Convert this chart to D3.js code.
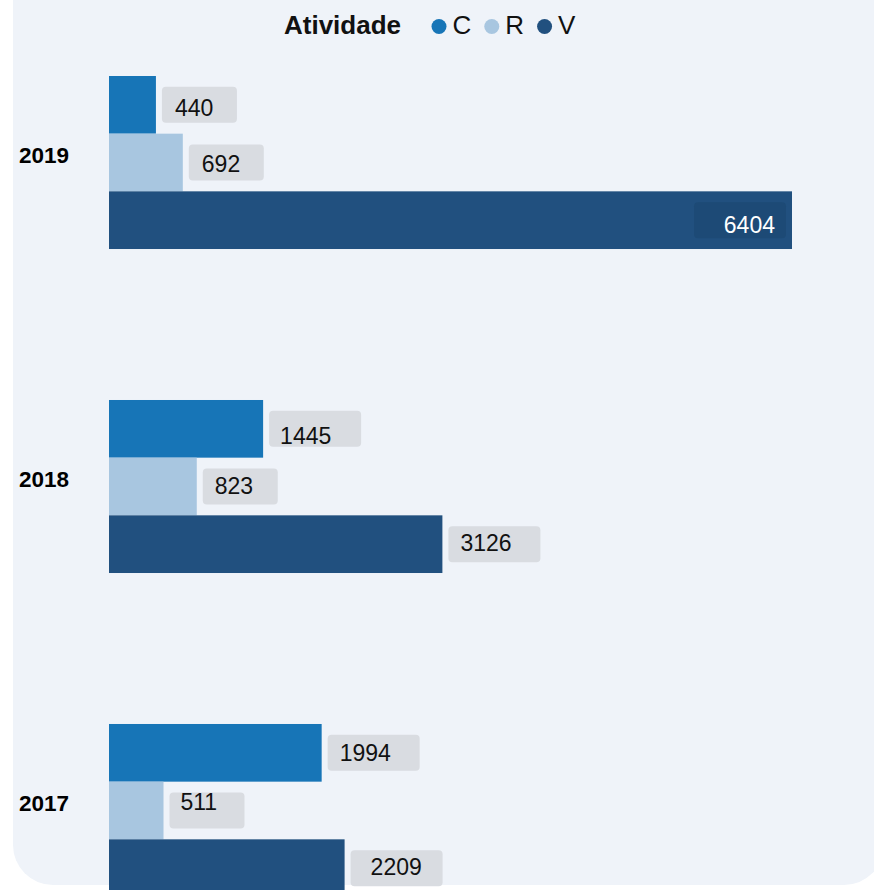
<!DOCTYPE html>
<html>
<head>
<meta charset="utf-8">
<script src="https://cdn.jsdelivr.net/npm/d3@7"></script>
<style>
  html, body { margin: 0; padding: 0; background: #ffffff; }
  svg { display: block; font-family: "Liberation Sans", Arial, sans-serif; }
</style>
</head>
<body>
<svg id="chart" width="874" height="890"></svg>
<script>
// Years shown as bar groups, top to bottom
const years = ["2019", "2018", "2017"];
// Activity codes (legend order)
const activities = ["C", "R", "V"];
// Values per activity, aligned with `years`
const valuesC = [440, 1445, 1994];
const valuesR = [692, 823, 511];
const valuesV = [6404, 3126, 2209];

const colors = { C: "#1775b7", R: "#a8c6e0", V: "#21507f" };

// Small per-label text offsets [dx, dy] keyed by year + activity
const labelNudge = {
  "2019C": [1, 3], "2019R": [1, 1], "2019V": [0, 4.5],
  "2018C": [-1, 7], "2018R": [0, -1], "2018V": [0, -1],
  "2017C": [0, 0], "2017R": [-1, -9], "2017V": [8, -1]
};

const seriesByKey = { C: valuesC, R: valuesR, V: valuesV };
const rows = years.map((y, i) => ({
  year: y,
  items: activities.map(a => ({ year: y, key: a, value: seriesByKey[a][i] }))
}));

const svg = d3.select("#chart");

// Background panel with rounded corners
svg.append("rect")
  .attr("x", 13).attr("y", -60)
  .attr("width", 871).attr("height", 945)
  .attr("rx", 40).attr("ry", 40)
  .attr("fill", "#eff3f9");

const maxV = d3.max(rows, r => d3.max(r.items, d => d.value));
const x = d3.scaleLinear().domain([0, maxV]).range([109, 792]);

const y = d3.scaleBand()
  .domain(years)
  .range([43.6, 929.4])
  .paddingInner(0.466)
  .paddingOuter(0.1);

const ySub = d3.scaleBand()
  .domain(activities)
  .range([0, y.bandwidth()])
  .padding(0);

const labelFont = 23;
const boxH = 36;
const boxW = s => 24 + 17 * s.length;

const groups = svg.append("g").selectAll("g.year")
  .data(rows)
  .join("g")
  .attr("class", "year")
  .attr("transform", d => `translate(0,${y(d.year)})`);

// Year labels
groups.append("text")
  .attr("x", 19)
  .attr("y", y.bandwidth() / 2 - 8)
  .attr("dy", "0.36em")
  .attr("font-size", 22.5)
  .attr("font-weight", "bold")
  .attr("fill", "#000")
  .text(d => d.year);

// Bars
groups.selectAll("rect.bar")
  .data(d => d.items)
  .join("rect")
  .attr("class", "bar")
  .attr("x", x(0))
  .attr("y", d => ySub(d.key))
  .attr("width", d => x(d.value) - x(0))
  .attr("height", ySub.bandwidth())
  .attr("fill", d => colors[d.key]);

// Value labels in rounded boxes
const labels = groups.selectAll("g.lbl")
  .data(d => d.items)
  .join("g")
  .attr("class", "lbl");

labels.each(function(d) {
  const g = d3.select(this);
  const txt = String(d.value);
  const w = boxW(txt);
  const cy = ySub(d.key) + ySub.bandwidth() / 2;
  const inside = d.value === maxV;
  const bx = inside ? x(d.value) - 6 - w : x(d.value) + 6;
  const nudge = labelNudge[d.year + d.key] || [0, 0];

  g.append("rect")
    .attr("x", bx)
    .attr("y", cy - boxH / 2)
    .attr("width", w)
    .attr("height", boxH)
    .attr("rx", 4).attr("ry", 4)
    .attr("fill", inside ? "#1d4a76" : "#d9dce1");

  g.append("text")
    .attr("x", inside ? bx + w - 11 + nudge[0] : bx + 12 + nudge[0])
    .attr("y", cy + nudge[1])
    .attr("dy", "0.36em")
    .attr("text-anchor", inside ? "end" : "start")
    .attr("font-size", labelFont)
    .attr("fill", inside ? "#ffffff" : "#111111")
    .text(txt);
});

// Legend
const legend = svg.append("g");
legend.append("text")
  .attr("x", 284)
  .attr("y", 34)
  .attr("font-size", 26)
  .attr("font-weight", "bold")
  .attr("fill", "#111")
  .text("Atividade");

let lx = 439;
activities.forEach(a => {
  legend.append("circle")
    .attr("cx", lx).attr("cy", 26.5).attr("r", 7.5)
    .attr("fill", colors[a]);
  const t = legend.append("text")
    .attr("x", lx + 13.5)
    .attr("y", 34)
    .attr("font-size", 26)
    .attr("fill", "#111")
    .text(a);
  const tw = t.node().getComputedTextLength();
  lx = lx + 13.5 + tw + 13 + 7.5;
});
</script>
</body>
</html>
